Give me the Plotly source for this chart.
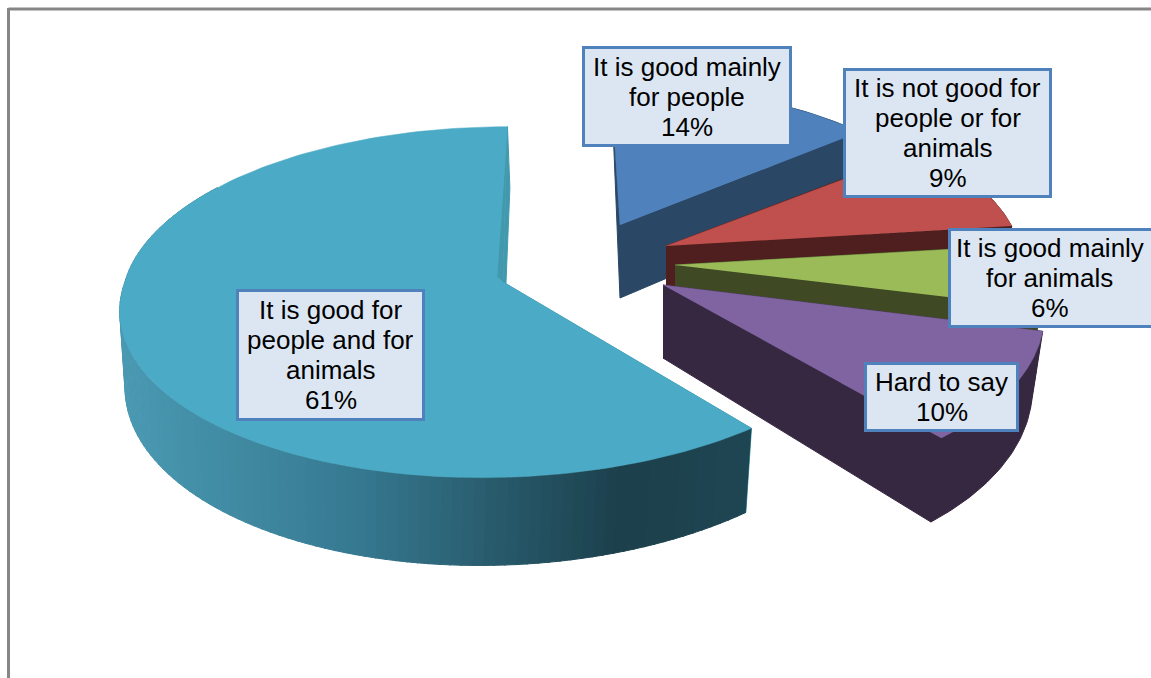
import numpy as np
import plotly.graph_objects as go

# ---------- data ----------
categories = [["It is good mainly", "for people"], ["It is not good for", "people or for", "animals"],
              ["It is good mainly", "for animals"], ["Hard to say"], ["It is good for", "people and for", "animals"]]
values = [14, 9, 6, 10, 61]

# ---------- styles / layout ----------
top_colors = ["#4F81BD", "#C0504D", "#9BBB59", "#8064A2", "#4BAAC5"]
wall_colors = ["#2A4766", "#4E1F1E", "#3F4A24", "#372841", "#4299AE"]
# apex x, apex y, radius scale, back shear, front shear, y scale, bottom scale, thickness
placement = [(620, 225, .90, -11, 0, 1, .985, 73),
             (666, 246, .93, 0, 0, 1, .985, 70),
             (675, 265, .96, 0, 0, 1, .985, 78),
             (663, 285, .99, 0, -18, 1.05, .97, 73),
             (503, 282, .995, 5, 19, 1, .985, 73)]
boxes = [(582, 46, 792, 147), (843, 68, 1052, 198), (948, 228, 1160, 328), (864, 362, 1019, 432), (236, 289, 425, 421)]
BIG_NOTCH = (-6, -5)
A, B, P = 380.0, 174.0, 0.115
FONT_SIZE = 26
LINE_STEP = 30

def top_pt(theta, pl):
    ax, ay, s, shb, shf, sy, k, D = pl
    u, v = np.sin(theta), -np.cos(theta)
    w = 1 - P * v
    sh = shf if v > 0 else shb
    return ax + s * (A * u - sh * v) / w, ay + s * sy * B * v / w

def low_pt(theta, pl):
    ax, ay, s, shb, shf, sy, k, D = pl
    x, y = top_pt(theta, pl)
    v = -np.cos(theta)
    w = 1 - P * v
    return ax + k * (x - ax) - 2.5 * v, y + D * (1 + .18 * v / w)

def poly(xs, ys, color):
    return go.Scatter(x=list(xs), y=list(ys), mode="lines", fill="toself", fillcolor=color,
                      line=dict(color=color, width=1), hoverinfo="skip", showlegend=False)

def side_color(x):
    xp = [121, 350, 620, 751]
    r = np.interp(x, xp, [74, 54, 28, 30])
    g = np.interp(x, xp, [153, 122, 64, 70])
    b = np.interp(x, xp, [178, 146, 76, 82])
    return f"rgb({r:.0f},{g:.0f},{b:.0f})"

fig = go.Figure()
edges = np.cumsum([0] + values) / sum(values) * 2 * np.pi
for i, pl in enumerate(placement):
    t0, t1 = edges[i], edges[i + 1]
    ax, ay, D = pl[0], pl[1], pl[7]
    bx, by = ax, ay + D
    wall = wall_colors[i]
    # straight cut walls
    for t in (t0, t1):
        a = top_pt(t, pl); b = low_pt(t, pl)
        fig.add_trace(poly([ax, a[0], b[0], bx], [ay, a[1], b[1], by], wall))
    # outer rim wall
    if i == 4:
        ts = np.arange(t0, t0 + np.radians(165), np.radians(1.5))
        for t in ts:
            t2 = t + np.radians(1.7)
            a, c = top_pt(t, pl), top_pt(t2, pl)
            b, d = low_pt(t, pl), low_pt(t2, pl)
            fig.add_trace(poly([a[0], c[0], d[0], b[0]], [a[1], c[1], d[1], b[1]], side_color((a[0] + c[0]) / 2)))
    else:
        ts = np.linspace(t0, t1, 40)
        tp = [top_pt(t, pl) for t in ts]
        lo = [low_pt(t, pl) for t in ts[::-1]]
        fig.add_trace(poly([q[0] for q in tp + lo], [q[1] for q in tp + lo], wall))
    # top surface
    ts = np.linspace(t0, t1, 160)
    tp = [top_pt(t, pl) for t in ts]
    px, py = [ax] + [q[0] for q in tp], [ay] + [q[1] for q in tp]
    if i == 4:
        back = top_pt(t1, pl)
        nx, ny = ax + BIG_NOTCH[0], ay + BIG_NOTCH[1]
        fig.add_trace(poly([ax, nx, back[0]], [ay, ny, back[1]], wall))
        px.append(nx); py.append(ny)
    fig.add_trace(go.Scatter(x=px, y=py, mode="lines", fill="toself", fillcolor=top_colors[i],
                             line=dict(color=top_colors[i], width=0.5), hoverinfo="skip", showlegend=False))

# frame
fig.add_shape(type="line", x0=8.5, x1=1151, y0=9, y1=9, line=dict(color="#868686", width=3))
fig.add_shape(type="line", x0=8.5, x1=8.5, y0=8, y1=678, line=dict(color="#868686", width=3))

# labels
for cat, val, (x0, y0, x1, y1) in zip(categories, values, boxes):
    fig.add_shape(type="rect", x0=x0 + 1.5, y0=y0 + 1.5, x1=x1 - 1.5, y1=y1 - 1.5,
                  fillcolor="#DCE6F2", line=dict(color="#4F81BD", width=3))
    cx = (x0 + min(x1, 1151)) / 2
    lines = cat + [f"{val}%"]
    for n, line in enumerate(lines):
        fig.add_annotation(x=cx, y=(y0 + y1) / 2 + (n - (len(lines) - 1) / 2) * LINE_STEP, text=line,
                           showarrow=False, align="center", xanchor="center", yanchor="middle",
                           font=dict(family="Liberation Sans, Arial, sans-serif", size=FONT_SIZE, color="#000000"))

fig.update_layout(width=1151, height=678, margin=dict(l=0, r=0, t=0, b=0, pad=0), autosize=False,
                  paper_bgcolor="white", plot_bgcolor="white", showlegend=False,
                  xaxis=dict(range=[0, 1151], visible=False, fixedrange=True),
                  yaxis=dict(range=[678, 0], visible=False, fixedrange=True))
fig.write_html("out.html", config=dict(displayModeBar=False),
               post_script="document.documentElement.style.margin='0';document.body.style.margin='0';document.body.style.overflow='hidden';")
